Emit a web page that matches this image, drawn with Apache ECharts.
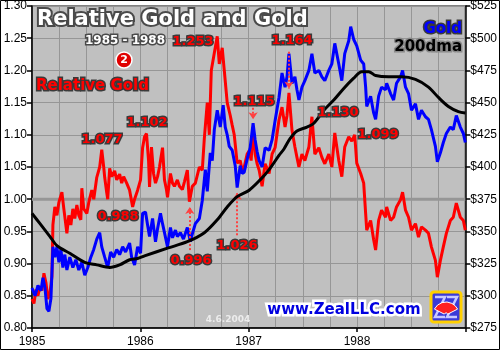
<!DOCTYPE html>
<html>
<head>
<meta charset="utf-8">
<script src="https://cdn.jsdelivr.net/npm/echarts@6/dist/echarts.min.js"></script>
<style>html,body{margin:0;padding:0;background:#fff}#c{width:500px;height:350px}</style>
</head>
<body>
<div id="c"></div>
<script>
// ---- data (decimal years) ----
const relDates = [1985.000,1985.018,1985.037,1985.055,1985.074,1985.092,1985.110,1985.129,1985.147,1985.166,1985.184,1985.193,1985.211,1985.230,1985.248,1985.276,1985.294,1985.322,1985.340,1985.359,1985.377,1985.395,1985.414,1985.432,1985.451,1985.460,1985.478,1985.506,1985.524,1985.552,1985.570,1985.598,1985.625,1985.644,1985.662,1985.671,1985.690,1985.699,1985.717,1985.736,1985.763,1985.782,1985.809,1985.828,1985.846,1985.874,1985.901,1985.929,1985.947,1985.975,1986.002,1986.021,1986.039,1986.057,1986.076,1986.085,1986.103,1986.122,1986.140,1986.159,1986.177,1986.205,1986.223,1986.241,1986.251,1986.278,1986.297,1986.315,1986.342,1986.361,1986.388,1986.407,1986.434,1986.453,1986.480,1986.508,1986.545,1986.572,1986.591,1986.618,1986.637,1986.655,1986.683,1986.710,1986.729,1986.756,1986.775,1986.802,1986.830,1986.848,1986.867,1986.894,1986.922,1986.940,1986.959,1986.986,1987.005,1987.023,1987.041,1987.060,1987.078,1987.097,1987.124,1987.152,1987.189,1987.216,1987.244,1987.280,1987.308,1987.336,1987.354,1987.372,1987.400,1987.427,1987.446,1987.464,1987.492,1987.519,1987.556,1987.584,1987.611,1987.648,1987.676,1987.703,1987.740,1987.768,1987.795,1987.832,1987.860,1987.887,1987.924,1987.952,1987.979,1987.998,1988.034,1988.062,1988.080,1988.090,1988.126,1988.154,1988.172,1988.200,1988.227,1988.264,1988.274,1988.310,1988.338,1988.365,1988.402,1988.421,1988.448,1988.476,1988.503,1988.540,1988.568,1988.595,1988.632,1988.660,1988.687,1988.724,1988.742,1988.770,1988.797,1988.825,1988.862,1988.889,1988.917,1988.954,1988.982,1989.000];
const relValues = [0.845,0.838,0.860,0.850,0.865,0.858,0.885,0.870,0.845,0.855,0.880,0.960,0.988,0.975,0.995,1.011,0.985,0.947,0.975,0.960,0.985,0.970,0.991,0.975,0.968,1.017,0.985,0.978,0.995,1.014,1.000,1.034,1.050,1.077,1.050,1.034,1.010,1.000,1.048,1.035,1.044,1.030,1.039,1.025,1.035,1.025,1.014,0.988,1.000,1.014,1.030,1.080,1.097,1.102,1.060,1.019,1.081,1.040,1.025,1.035,1.050,1.080,1.030,1.015,1.003,1.040,1.025,1.020,1.030,1.020,1.015,1.027,1.045,0.996,1.020,1.025,1.050,1.045,1.095,1.150,1.100,1.200,1.227,1.253,1.210,1.235,1.200,1.150,1.130,1.115,1.100,1.056,1.060,1.045,1.050,1.070,1.075,1.060,1.112,1.070,1.055,1.045,1.020,1.055,1.040,1.070,1.080,1.123,1.143,1.112,1.130,1.165,1.107,1.081,1.065,1.050,1.070,1.060,1.081,1.128,1.070,1.080,1.065,1.055,1.070,1.050,1.103,1.060,1.035,1.081,1.097,1.090,1.100,1.056,1.040,1.025,0.978,0.952,0.967,0.937,0.921,0.967,0.983,0.972,0.988,0.967,0.972,0.988,0.999,1.011,0.983,0.972,0.952,0.962,0.941,0.957,0.952,0.947,0.926,0.905,0.879,0.905,0.926,0.947,0.967,0.972,0.994,0.972,0.967,0.952];

const goldDates = [1985.000,1985.028,1985.055,1985.083,1985.101,1985.120,1985.138,1985.156,1985.175,1985.193,1985.211,1985.230,1985.248,1985.267,1985.285,1985.303,1985.322,1985.349,1985.377,1985.405,1985.432,1985.460,1985.487,1985.515,1985.543,1985.570,1985.598,1985.625,1985.644,1985.671,1985.699,1985.726,1985.754,1985.782,1985.809,1985.837,1985.864,1985.901,1985.920,1985.947,1985.975,1986.002,1986.021,1986.048,1986.067,1986.085,1986.113,1986.140,1986.159,1986.186,1986.205,1986.223,1986.251,1986.278,1986.297,1986.324,1986.342,1986.370,1986.398,1986.434,1986.462,1986.480,1986.508,1986.545,1986.572,1986.600,1986.618,1986.646,1986.664,1986.683,1986.710,1986.738,1986.765,1986.784,1986.802,1986.821,1986.848,1986.876,1986.894,1986.922,1986.940,1986.959,1986.986,1987.014,1987.041,1987.060,1987.078,1987.097,1987.124,1987.152,1987.189,1987.216,1987.244,1987.280,1987.308,1987.336,1987.354,1987.372,1987.400,1987.427,1987.446,1987.464,1987.492,1987.519,1987.556,1987.584,1987.611,1987.648,1987.676,1987.703,1987.740,1987.768,1987.795,1987.832,1987.860,1987.887,1987.924,1987.942,1987.970,1987.998,1988.034,1988.062,1988.080,1988.090,1988.126,1988.154,1988.172,1988.200,1988.227,1988.264,1988.274,1988.310,1988.338,1988.365,1988.402,1988.421,1988.448,1988.476,1988.503,1988.540,1988.568,1988.595,1988.632,1988.660,1988.687,1988.724,1988.742,1988.770,1988.797,1988.825,1988.862,1988.889,1988.917,1988.954,1988.982,1989.000];
const goldPrices = [306,300,308,304,314,306,290,288,298,338,330,338,326,336,322,332,320,330,322,328,320,326,316,322,330,336,344,349,338,330,322,334,330,336,332,338,334,341,330,324,338,333,364,365,355,346,360,342,352,364,356,349,338,353,345,351,346,349,344,353,342,348,356,360,374,398,381,411,405,429,444,431,448,431,425,416,413,401,384,401,395,396,406,415,434,421,412,405,400,415,413,421,436,454,473,462,470,488,465,470,460,452,462,467,475,488,473,475,470,467,475,480,496,480,467,488,498,509,499,494,483,480,462,447,455,442,437,455,462,460,465,457,452,465,470,475,462,457,444,449,437,444,439,437,429,416,404,411,419,426,431,429,440,431,426,419];

const dmaDates = [1985.000,1985.074,1985.166,1985.230,1985.349,1985.487,1985.598,1985.717,1985.809,1985.901,1985.975,1986.039,1986.251,1986.434,1986.591,1986.710,1986.802,1986.894,1987.005,1987.106,1987.189,1987.280,1987.326,1987.382,1987.446,1987.538,1987.602,1987.694,1987.786,1987.878,1987.970,1988.044,1988.108,1988.172,1988.292,1988.411,1988.540,1988.660,1988.752,1988.844,1988.936,1989.000];
const dmaPrices = [364,356,346,339,333,326,324,322,324,328,329,331,337,342,349,359,369,377,382,390,398,409,414,422,428,431,434,444,452,461,469,474,474,471,470,470,468,462,454,447,443,442];

const leftTicks = {min: 0.80, max: 1.30, step: 0.05};
const rightTicks = {min: 275, max: 525, step: 25};
const yearTicks = {min: 1985, max: 1989, step: 1};

// annotated values
const notes = [
  {t:'1.253', x:193, y:42}, {t:'1.164', x:292, y:41}, {t:'1.077', x:102, y:140},
  {t:'1.102', x:147, y:123}, {t:'0.988', x:118, y:217}, {t:'0.996', x:191, y:261},
  {t:'1.026', x:237, y:246}, {t:'1.115', x:254, y:102}, {t:'1.130', x:338, y:113},
  {t:'1.099', x:378, y:135}
];
// arrows in data space [date, from, to]
const arrows = [[1986.457, 0.921, 0.988], [1986.894, 0.944, 1.010], [1987.041, 1.142, 1.124], [1987.372, 1.229, 1.172]];

const zip = (a, b) => a.map((d, i) => [d, b[i]]);

function outlined(text, x, y, font, fill, stroke, lw, align, z) {
  const base = {text, x, y, font, textAlign: align || 'center', textVerticalAlign: 'middle'};
  return [
    {type:'text', z: z||100, silent:true, style: Object.assign({}, base, {fill: stroke, stroke: stroke, lineWidth: lw})},
    {type:'text', z: (z||100)+1, silent:true, style: Object.assign({}, base, {fill: fill})}
  ];
}

const FONT = 'DejaVu Sans';
let g = [];
g = g.concat(outlined('Relative Gold and Gold', 37, 20, 'bold 21px ' + FONT, '#ffffff', '#4a4a4a', 4, 'left'));
g = g.concat(outlined('1985 - 1988', 125, 41, 'bold 12px ' + FONT, '#ffffff', '#4a4a4a', 3));
g.push({type:'circle', z:100, silent:true, shape:{cx:124, cy:60, r:8}, style:{fill:'#e00000', stroke:'#ffffff', lineWidth:1.5}});
g.push({type:'text', z:101, silent:true, style:{text:'2', x:124, y:60.5, font:'bold 11px ' + FONT, fill:'#fff', textAlign:'center', textVerticalAlign:'middle'}});
g = g.concat(outlined('Relative Gold', 36, 86, 'bold 15px ' + FONT, '#ff0000', '#3a3a3a', 3, 'left'));
notes.forEach(n => { g = g.concat(outlined(n.t, n.x, n.y, 'bold 13px ' + FONT, '#ff0000', '#3a3a3a', 3)); });
g = g.concat(outlined('Gold', 462, 29, 'bold 15px ' + FONT, '#0000ff', '#3a3a3a', 3, 'right'));
g = g.concat(outlined('200dma', 462, 47, 'bold 15px ' + FONT, '#000000', '#8a8a8a', 3, 'right'));
g = g.concat(outlined('www.ZealLLC.com', 344, 310, 'bold 15px ' + FONT, '#0000e0', '#ffffff', 5));
g.push({type:'text', z:100, silent:true, style:{text:'4.6.2004', x:228, y:320, font:'bold 9px ' + FONT, fill:'#ececec', textAlign:'center', textVerticalAlign:'middle'}});
// logo
g.push({type:'rect', z:100, silent:true, shape:{x:431, y:292, width:30, height:30, r:3}, style:{fill:'#3a3ad8', stroke:'#ffd000', lineWidth:3}});
g.push({type:'polyline', z:101, silent:true, shape:{points:[[435,297],[445,297],[435,317],[445,317]]}, style:{stroke:'#c8c8ff', lineWidth:2.5, fill:null}});
g.push({type:'polyline', z:101, silent:true, shape:{points:[[447,297],[457,297],[447,317],[457,317]]}, style:{stroke:'#c8c8ff', lineWidth:2.5, fill:null}});
g.push({type:'sector', z:102, silent:true, shape:{cx:446, cy:315, r:13, r0:2, startAngle:-Math.PI*0.85, endAngle:-Math.PI*0.15}, style:{fill:'#ff2020', stroke:'#ffffff', lineWidth:1}});
// frame
g.push({type:'rect', z:200, silent:true, shape:{x:0.5, y:0.5, width:499, height:349}, style:{fill:null, stroke:'#000', lineWidth:1}});

const chart = echarts.init(document.getElementById('c'), null, {renderer:'canvas'});
chart.setOption({
  animation: false,
  backgroundColor: '#ffffff',
  grid: {left:32, right:33, top:6, bottom:22, show:true, backgroundColor:'#c0c0c0', borderColor:'#000', borderWidth:1},
  xAxis: {
    type:'value', min:yearTicks.min, max:yearTicks.max, interval:yearTicks.step,
    axisLine:{lineStyle:{color:'#000', width:1.5}},
    axisTick:{length:4, lineStyle:{color:'#000', width:1.5}},
    axisLabel:{formatter: v => v === yearTicks.max ? '' : String(v), color:'#000', fontSize:12, fontFamily:'Liberation Sans', margin:8},
    splitLine:{show:true, lineStyle:{color:'#969696', width:1}},
    minorTick:{show:false, splitNumber:4},
    minorSplitLine:{show:true, lineStyle:{color:'#969696', width:1}}
  },
  yAxis: [
    {type:'value', min:leftTicks.min, max:leftTicks.max, interval:leftTicks.step, position:'left',
     axisLine:{show:true, lineStyle:{color:'#000', width:1.5}},
     axisTick:{show:true, length:5, lineStyle:{color:'#000', width:1.5}},
     axisLabel:{formatter: v => v.toFixed(2), color:'#000', fontSize:12, fontFamily:'Liberation Sans', margin:5},
     splitLine:{show:true, lineStyle:{color:'#969696', width:1}}},
    {type:'value', min:rightTicks.min, max:rightTicks.max, interval:rightTicks.step, position:'right',
     axisLine:{show:true, lineStyle:{color:'#000', width:1.5}},
     axisTick:{show:true, length:5, lineStyle:{color:'#000', width:1.5}},
     axisLabel:{formatter: v => '$' + v, color:'#000', fontSize:12, fontFamily:'Liberation Sans', margin:5},
     splitLine:{show:false}}
  ],
  series: [
    {type:'line', yAxisIndex:0, z:1, silent:true, symbol:'none', data:[[yearTicks.min, 1.0], [yearTicks.max, 1.0]], lineStyle:{color:'#969696', width:3}},
    {type:'line', name:'Relative Gold', yAxisIndex:0, z:3, symbol:'none', data: zip(relDates, relValues), lineStyle:{color:'#ff0000', width:3}, itemStyle:{color:'#ff0000'},
     markLine:{silent:true, symbol:['none','arrow'], symbolSize:[7,7], label:{show:false},
       lineStyle:{color:'#ff4040', type:'dotted', width:2},
       data: arrows.map(a => [{coord:[a[0], a[1]]}, {coord:[a[0], a[2]]}])}},
    {type:'line', name:'Gold', yAxisIndex:1, z:4, symbol:'none', data: zip(goldDates, goldPrices), lineStyle:{color:'#0000ff', width:3}},
    {type:'line', name:'200dma', yAxisIndex:1, z:5, symbol:'none', data: zip(dmaDates, dmaPrices), smooth:0.3, lineStyle:{color:'#000000', width:3}}
  ],
  graphic: g
});
</script>
</body>
</html>
